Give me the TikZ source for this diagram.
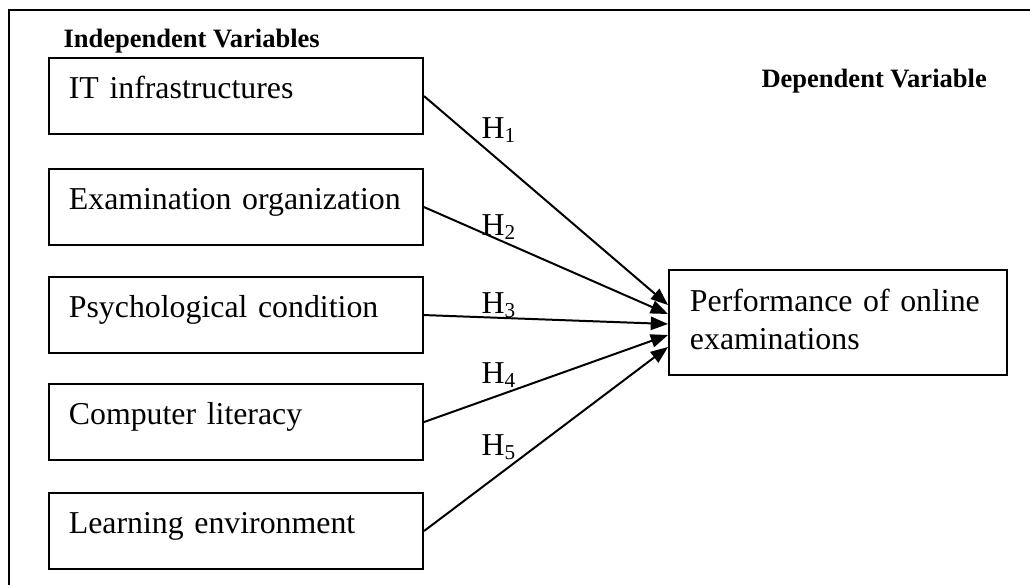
\documentclass[tikz,border=0pt]{standalone}
\usepackage{fontspec}
\setmainfont{Liberation Serif}
\usetikzlibrary{arrows.meta}

\tikzset{
  varbox/.style={draw, line width=0.75pt, anchor=north west, align=left,
    text width=126pt, inner xsep=7.5pt, inner ysep=0pt,
    text height=15.1pt, text depth=13.6pt,
    font=\fontsize{12}{14.3}\selectfont},
  headlbl/.style={anchor=base west, inner sep=0pt,
    font=\fontsize{10}{12}\selectfont\bfseries},
  hyplbl/.style={anchor=base west, inner sep=0pt,
    font=\fontsize{12}{14.3}\selectfont},
  hyparrow/.style={line width=0.75pt, -{Triangle[length=6.5pt,width=5pt]}}
}

\begin{document}
\begin{tikzpicture}[x=0.377pt, y=-0.377pt]
  \useasboundingbox (0,0) rectangle (1030,585);

  % outer frame
  \draw[line width=1.1pt] (9,585) -- (9,10) -- (1030,10);

  % headings
  \node[headlbl] (indep) at (63,47) {Independent Variables};
  \node[headlbl] (dep) at (761,87) {Dependent Variable};

  % independent variables
  \foreach \name/\top/\txt in {it/57/IT infrastructures,
      exam/168/Examination organization,
      psych/276/Psychological condition,
      comp/383/Computer literacy,
      learn/492/Learning environment}{
    \node[varbox] (\name) at (48,\top) {\txt};
  }

  % dependent variable
  \node[varbox, text width=111.6pt, inner xsep=7.9pt,
    text height=15.5pt, text depth=24.1pt] (perf) at (668,269)
    {Performance of online\\examinations};

  % arrow end points on the dependent box
  \foreach \i/\ey in {1/305,2/314,3/324,4/335,5/347}{
    \coordinate (e\i) at (668,\ey);
  }

  % hypotheses
  \foreach \name/\i/\ly in {it/1/138,exam/2/235,psych/3/313,comp/4/383,learn/5/455}{
    \draw[hyparrow] (\name.east) -- (e\i);
    \node[hyplbl] (h\i) at (481,\ly) {H\textsubscript{\i}};
  }
\end{tikzpicture}
\end{document}
